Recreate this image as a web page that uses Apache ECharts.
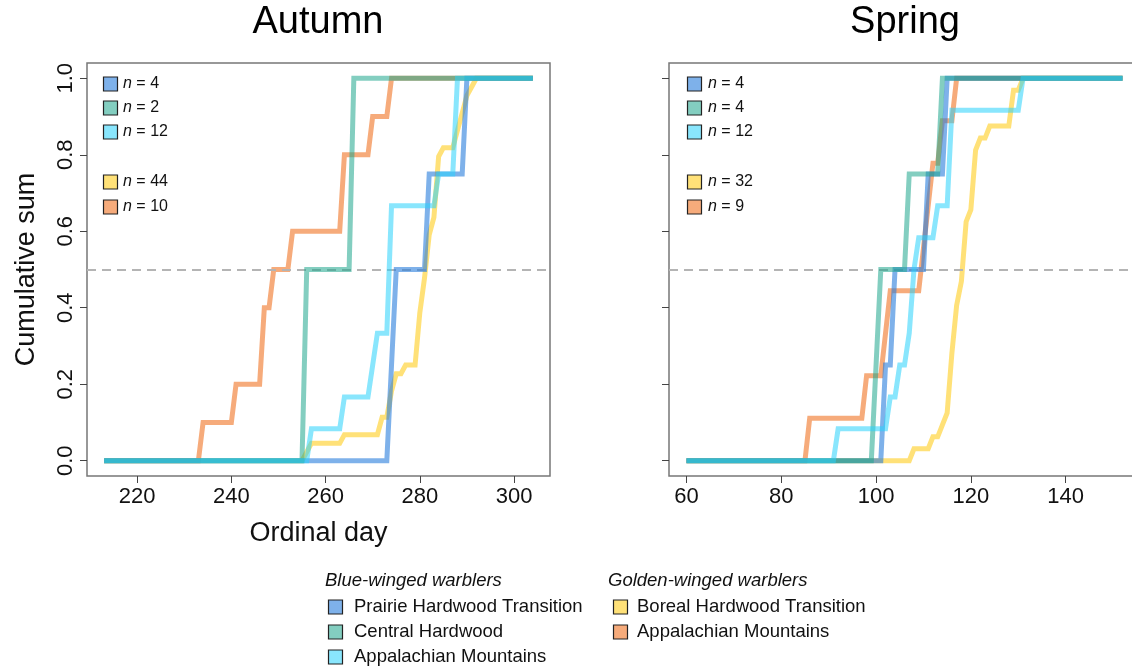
<!DOCTYPE html>
<html><head><meta charset="utf-8">
<script src="https://cdn.jsdelivr.net/npm/echarts@6/dist/echarts.min.js"></script>
<style>html,body{margin:0;padding:0;background:#fff}#c{width:1132px;height:670px}</style>
</head><body><div id="c"></div>
<script>
// ---------- data ----------
const autumnRange = [213, 304];
const springRange = [60, 152];
const autumnTicks = [220, 240, 260, 280, 300];
const springTicks = [60, 80, 100, 120, 140];
const yTicks = [0, 0.2, 0.4, 0.6, 0.8, 1.0];
const panelTitles = ['Autumn', 'Spring'];
const groupNames = ['Blue-winged warblers', 'Golden-winged warblers'];
const regionNames = ['Prairie Hardwood Transition', 'Central Hardwood', 'Appalachian Mountains', 'Boreal Hardwood Transition', 'Appalachian Mountains'];
const nAutumn = [4, 2, 12, 44, 10];
const nSpring = [4, 4, 12, 32, 9];

// day on which cumulative count changes, and new cumulative count
const aBlueDays = [274, 275, 282, 290];
const aBlueCounts = [1, 2, 3, 4];
const aTealDays = [256, 266];
const aTealCounts = [1, 2];
const aCyanDays = [257, 264, 270, 271, 274, 284, 288];
const aCyanCounts = [1, 2, 3, 4, 8, 9, 12];
const aYellowDays = [256, 257, 264, 272, 274, 275, 277, 280, 281, 282, 283, 284, 285, 288, 289, 290, 291, 292];
const aYellowCounts = [1, 2, 3, 5, 8, 10, 11, 17, 21, 26, 28, 35, 36, 38, 40, 42, 43, 44];
const aOrangeDays = [234, 241, 247, 249, 253, 264, 270, 274];
const aOrangeCounts = [1, 2, 4, 5, 6, 8, 9, 10];

const sBlueDays = [102, 104, 111, 115];
const sBlueCounts = [1, 2, 3, 4];
const sTealDays = [100, 101, 107, 114];
const sTealCounts = [1, 2, 3, 4];
const sCyanDays = [92, 103, 105, 107, 108, 109, 113, 116, 131];
const sCyanCounts = [1, 2, 3, 4, 6, 7, 8, 11, 12];
const sYellowDays = [108, 112, 114, 115, 116, 117, 118, 119, 120, 121, 122, 124, 129, 131];
const sYellowCounts = [1, 2, 3, 4, 9, 13, 15, 20, 21, 26, 27, 28, 31, 32];
const sOrangeDays = [86, 98, 102, 103, 110, 111, 112, 114, 117];
const sOrangeCounts = [1, 2, 3, 4, 5, 6, 7, 8, 9];

// ---------- styling ----------
const FONT = "'Liberation Sans', Arial, Helvetica, sans-serif";
const colors = ['rgba(40,125,220,0.6)', 'rgba(30,165,140,0.55)', 'rgba(40,210,252,0.55)', 'rgba(255,205,30,0.6)', 'rgba(240,115,35,0.6)'];

function cumSeries(range, days, counts, n) {
  const pts = [[range[0], 0]];
  let prev = 0, last = range[0];
  for (let i = 0; i < days.length; i++) {
    const d = days[i];
    if (d - 1 > last) pts.push([d - 1, prev]);
    prev = counts[i] / n;
    pts.push([d, prev]);
    last = d;
  }
  pts.push([range[1], prev]);
  return pts;
}

const autumnSets = [
  [aBlueDays, aBlueCounts], [aTealDays, aTealCounts], [aCyanDays, aCyanCounts],
  [aYellowDays, aYellowCounts], [aOrangeDays, aOrangeCounts]];
const springSets = [
  [sBlueDays, sBlueCounts], [sTealDays, sTealCounts], [sCyanDays, sCyanCounts],
  [sYellowDays, sYellowCounts], [sOrangeDays, sOrangeCounts]];

const drawOrder = [3, 4, 0, 1, 2];
const series = [];
[[autumnSets, autumnRange, nAutumn], [springSets, springRange, nSpring]].forEach(([sets, range, ns], g) => {
  drawOrder.forEach((k, j) => {
    const s = {
      type: 'line', xAxisIndex: g, yAxisIndex: g, name: regionNames[k],
      data: cumSeries(range, sets[k][0], sets[k][1], ns[k]),
      showSymbol: false, symbol: 'none', silent: true, animation: false,
      lineStyle: { color: colors[k], width: 5, join: 'miter' },
      z: 3 + j
    };
    if (j === 0) {
      s.markLine = {
        silent: true, symbol: ['none', 'none'], label: { show: false },
        lineStyle: { color: '#b4b4b4', type: [9, 6], width: 2 },
        data: [{ yAxis: 0.5 }], animation: false
      };
    }
    series.push(s);
  });
});

function padRange(r) { const e = 0.04 * (r[1] - r[0]); return [r[0] - e, r[1] + e]; }
const aX = padRange(autumnRange), sX = padRange(springRange);

const tickStyle = { length: 7, lineStyle: { color: '#444', width: 1 } };
function xAxis(g, ext, ticks, name) {
  return {
    gridIndex: g, type: 'value', min: ext[0], max: ext[1],
    axisLine: { show: false, onZero: false }, splitLine: { show: false },
    axisTick: Object.assign({ show: true, inside: false, customValues: ticks }, tickStyle),
    axisLabel: { customValues: ticks, fontSize: 22, color: '#111', fontFamily: FONT, margin: 10 },
    name: name, nameLocation: 'middle', nameGap: 44,
    nameTextStyle: { fontSize: 27, color: '#111', fontFamily: FONT }
  };
}
function yAxis(g, showLabels, name) {
  return {
    gridIndex: g, type: 'value', min: -0.04, max: 1.04,
    axisLine: { show: false, onZero: false }, splitLine: { show: false },
    axisTick: Object.assign({ show: true, inside: false, customValues: yTicks }, tickStyle),
    axisLabel: { show: showLabels, customValues: yTicks, rotate: 90, fontSize: 22, color: '#111', fontFamily: FONT, margin: 10,
      formatter: v => v.toFixed(1) },
    name: name, nameLocation: 'middle', nameRotate: 90, nameGap: 47,
    nameTextStyle: { fontSize: 27, color: '#111', fontFamily: FONT }
  };
}

// ---------- graphic (titles + legends) ----------
const graphic = [];
graphic.push({ type: 'text', x: 318, y: 23, style: { text: panelTitles[0], fontSize: 38, fontFamily: FONT, fill: '#000', align: 'center', verticalAlign: 'middle' } });
graphic.push({ type: 'text', x: 905, y: 23, style: { text: panelTitles[1], fontSize: 38, fontFamily: FONT, fill: '#000', align: 'center', verticalAlign: 'middle' } });

const rowY = [84, 108, 132, 182, 207];
[[103, 123, nAutumn], [687, 708, nSpring]].forEach(([bx, tx, ns]) => {
  ns.forEach((n, k) => {
    graphic.push({ type: 'rect', shape: { x: bx + 0.5, y: rowY[k] - 7, width: 14, height: 14 },
      style: { fill: colors[k], stroke: '#222', lineWidth: 1.2 } });
    graphic.push({ type: 'text', x: tx, y: rowY[k], style: {
      text: '{i|n} = ' + n, fontSize: 16, fontFamily: FONT, fill: '#111', verticalAlign: 'middle',
      rich: { i: { fontStyle: 'italic', fontSize: 16, fontFamily: FONT, fill: '#111' } } } });
  });
});

// bottom legend
const legCols = [[325, 328, 354, [0, 1, 2]], [608, 613, 637, [3, 4]]];
legCols.forEach(([hx, bx, tx, ks], c) => {
  graphic.push({ type: 'text', x: hx, y: 581, style: { text: groupNames[c], fontSize: 18.5, fontStyle: 'italic', fontFamily: FONT, fill: '#111', verticalAlign: 'middle' } });
  ks.forEach((k, r) => {
    const y = 607 + r * 25;
    graphic.push({ type: 'rect', shape: { x: bx + 0.5, y: y - 7, width: 14, height: 14 },
      style: { fill: colors[k], stroke: '#222', lineWidth: 1.2 } });
    graphic.push({ type: 'text', x: tx, y: y, style: { text: regionNames[k], fontSize: 18.5, fontFamily: FONT, fill: '#111', verticalAlign: 'middle' } });
  });
});

const chart = echarts.init(document.getElementById('c'), null, { renderer: 'canvas' });
chart.setOption({
  backgroundColor: '#fff',
  animation: false,
  grid: [
    { left: 87, top: 63, width: 463, height: 413, show: true, borderColor: '#777', borderWidth: 1.5, backgroundColor: 'rgba(0,0,0,0)', outerBoundsMode: 'none', containLabel: false },
    { left: 669, top: 63, width: 471, height: 413, show: true, borderColor: '#777', borderWidth: 1.5, backgroundColor: 'rgba(0,0,0,0)', outerBoundsMode: 'none', containLabel: false }
  ],
  xAxis: [xAxis(0, aX, autumnTicks, 'Ordinal day'), xAxis(1, sX, springTicks, '')],
  yAxis: [yAxis(0, true, 'Cumulative sum'), yAxis(1, false, '')],
  series: series,
  graphic: graphic
});
</script></body></html>
